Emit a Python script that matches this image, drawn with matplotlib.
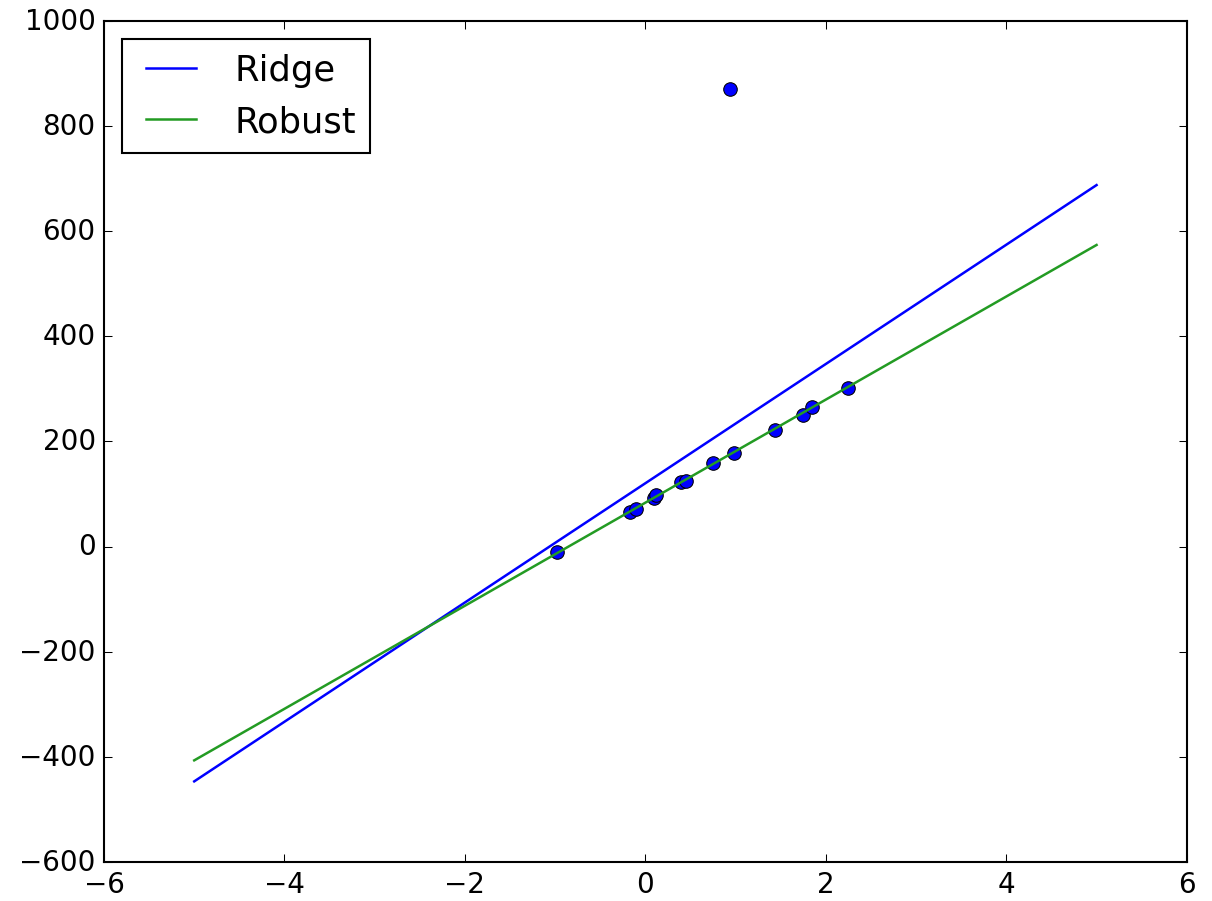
import numpy as np
import matplotlib
matplotlib.use("Agg")
import matplotlib.pyplot as plt

plt.style.use('classic')

# sample points
x_pts = [-0.98, -0.17, -0.10, 0.10, 0.12, 0.40, 0.45, 0.75, 0.98, 1.44, 1.75, 1.85, 2.24, 0.94]
y_pts = [-10, 66, 72, 93, 99, 122, 124, 159, 178, 222, 251, 266, 302, 871]

# fitted lines
x_line = [-5, 5]
ridge_line = [-447, 688]
robust_line = [-407, 574]

fig = plt.figure(figsize=(8.08, 6.013), dpi=150)
ax = fig.add_axes([0.0858, 0.0435, 0.8934, 0.932])

ax.plot(x_pts, y_pts, 'o', color='b', markersize=6.5)
ax.plot(x_line, ridge_line, color='b', lw=1.2, label='Ridge')
ax.plot(x_line, robust_line, color='#239b23', lw=1.2, label='Robust')

ax.set_xlim(-6, 6)
ax.set_ylim(-600, 1000)
ax.tick_params(labelsize=13.3)
ax.legend(loc='upper left', fontsize=16.9)

fig.savefig('out.png', dpi=150)
